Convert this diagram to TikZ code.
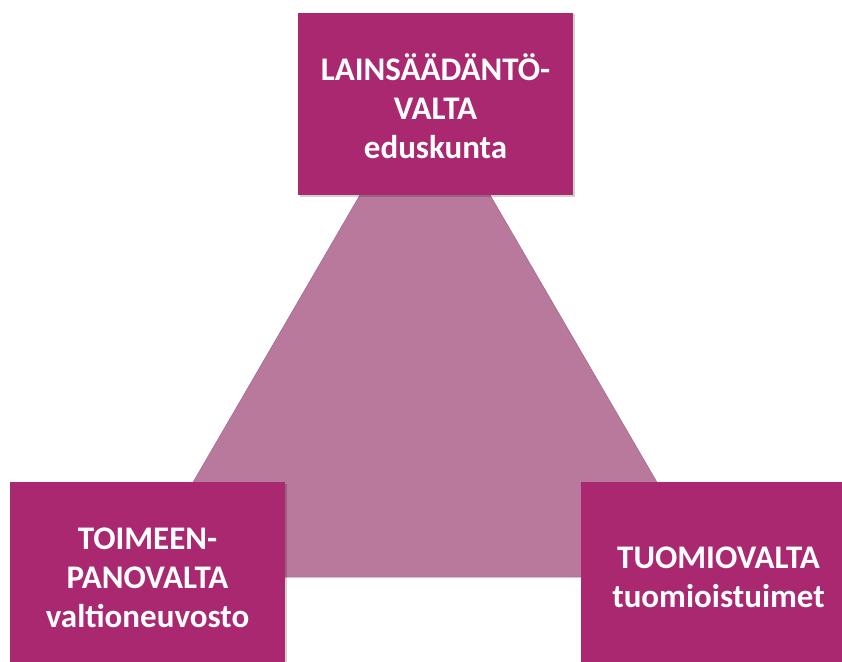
\documentclass[tikz,border=0pt]{standalone}
\usepackage{fontspec}
\setmainfont{Carlito}
\usetikzlibrary{positioning,shadows}
\definecolor{valta}{RGB}{170,40,112}
\definecolor{kolmio}{RGB}{184,121,156}
\tikzset{%
  powerbox/.style={rectangle, fill=valta, minimum width=275pt, minimum height=182pt,
    inner sep=0pt, drop shadow={opacity=0.18, fill=black, shadow xshift=1.5pt, shadow yshift=-1.5pt}},% box of one power
  boxtext/.style={text=white, align=center, font=\fontsize{33}{39}\selectfont\bfseries}% white text in a box
}

\begin{document}
\begin{tikzpicture}[x=1pt, y=-1pt]
\useasboundingbox (0,0) rectangle (842,661);

% triangle behind the boxes
\coordinate (apex) at (425, 83);
\coordinate (bl) at (138, 577);
\coordinate (br) at (712, 577);
\filldraw[fill=kolmio, draw=kolmio!85!black, line width=0.5pt] (apex) -- (bl) -- (br) -- cycle;

\node[powerbox] (lv) at (435.5, 104) {};
\node[powerbox] (tv) at (147.5, 573) {};
\node[powerbox] (tm) at (718.5, 573) {};

\node[boxtext] (lvt) at ([yshift=-2pt]lv.center) {LAINSÄÄDÄNTÖ-\\VALTA\\eduskunta};
\node[boxtext] (tvt) at ([yshift=-5pt]tv.center) {TOIMEEN-\\PANOVALTA\\valtioneuvosto};
\node[boxtext] (tmt) at ([yshift=-4pt]tm.center) {TUOMIOVALTA\\tuomioistuimet};

\end{tikzpicture}
\end{document}
